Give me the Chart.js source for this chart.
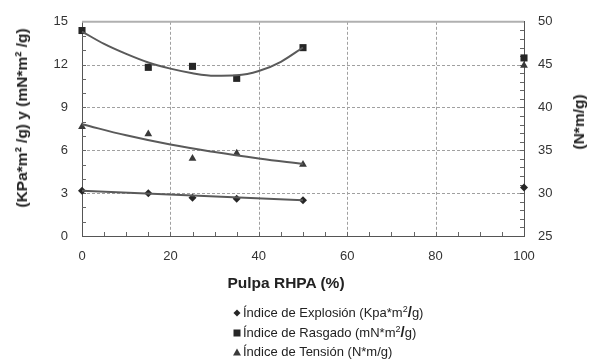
<!DOCTYPE html>
<html>
<head>
<meta charset="utf-8">
<script src="https://cdn.jsdelivr.net/npm/chart.js@4.4.1/dist/chart.umd.min.js"></script>
<style>
  html, body { margin: 0; padding: 0; background: #fff; }
  #wrap { position: relative; width: 589px; height: 362px; overflow: hidden; font-family: "Liberation Sans", Arial, sans-serif; color: #222; }
  #c { position: absolute; left: 0; top: 0; }
  .ttl { position: absolute; font-weight: bold; font-size: 15.5px; white-space: nowrap; color: #222; }
  .rot { transform: translate(-50%, -50%) rotate(-90deg); }
  .leg { position: absolute; left: 243px; height: 16px; font-size: 13px; white-space: nowrap; color: #222; line-height: 16px; transform: translateY(-50%); }
  .leg sup { font-size: 9px; line-height: 0; }
  .leg b { font-size: 15px; line-height: 0; }
  .mk { position: absolute; background: #262626; }
  .dia { width: 5px; height: 5px; transform: translate(-50%, -50%) rotate(45deg); }
  .sq { width: 7px; height: 7px; transform: translate(-50%, -50%); }
  .tri { width: 0; height: 0; background: none; border-left: 4px solid transparent; border-right: 4px solid transparent; border-bottom: 7px solid #3a3a3a; transform: translate(-50%, -50%); }
</style>
</head>
<body>
<div id="wrap">
  <canvas id="c" width="589" height="362"></canvas>
  <div class="ttl rot" style="left:22px; top:118px;">(KPa*m² /g) y (mN*m² /g)</div>
  <div class="ttl rot" style="left:579px; top:122px;">(N*m/g)</div>
  <div class="ttl" style="left:286px; top:283px; transform: translate(-50%,-50%);">Pulpa RHPA (%)</div>
  <div class="mk dia" style="left:237px; top:313px;"></div>
  <div class="mk sq" style="left:237px; top:333px;"></div>
  <div class="mk tri" style="left:237px; top:352px;"></div>
  <div class="leg" style="top:313px;">Índice de Explosión (Kpa*m<sup>2</sup><b>/</b>g)</div>
  <div class="leg" style="top:333px;">Índice de Rasgado (mN*m<sup>2</sup><b>/</b>g)</div>
  <div class="leg" style="top:352px;">Índice de Tensión (N*m/g)</div>
</div>
<script>
// ---- data ----
const pulpa = [0, 15, 25, 35, 50, 100];
const explosion = [3.17, 3.0, 2.67, 2.6, 2.51, 3.39];      // left axis
const rasgado = [14.39, 11.81, 11.88, 11.04, 13.19, 12.47]; // left axis
const tension = [37.75, 36.9, 34.05, 34.65, 33.35, 44.9];   // right axis

const explosionTrendX = [0, 50];
const explosionTrend = [3.17, 2.51];
const rasgadoTrendX = [0, 5, 10, 15, 20, 25, 30, 35, 40, 45, 50];
const rasgadoTrend = [14.32, 13.45, 12.75, 12.15, 11.72, 11.4, 11.22, 11.25, 11.55, 12.2, 13.2];
const tensionTrendX = [0, 10, 20, 30, 40, 50];
const tensionTrend = [38.05, 36.75, 35.67, 34.8, 34.05, 33.4];

const xTicks = [0, 20, 40, 60, 80, 100];
const leftTicks = [0, 3, 6, 9, 12, 15];
const rightTicks = [25, 30, 35, 40, 45, 50];

const pts = (xs, ys) => xs.map((x, i) => ({ x: x, y: ys[i] }));

const lineCol = '#5a5a5a';
const markCol = '#262626';

const decor = {
  id: 'decor',
  beforeDatasetsDraw(chart) {
    const { ctx, chartArea: a, scales } = chart;
    ctx.save();
    // dashed grid
    ctx.strokeStyle = '#a0a0a0';
    ctx.lineWidth = 1;
    ctx.setLineDash([3, 2]);
    ctx.beginPath();
    xTicks.slice(1, -1).forEach(v => {
      const px = Math.round(scales.x.getPixelForValue(v)) + 0.5;
      ctx.moveTo(px, a.top); ctx.lineTo(px, a.bottom);
    });
    leftTicks.slice(1, -1).forEach(v => {
      const py = Math.round(scales.y.getPixelForValue(v)) + 0.5;
      ctx.moveTo(a.left, py); ctx.lineTo(a.right, py);
    });
    ctx.stroke();
    ctx.setLineDash([]);
    // minor ticks
    ctx.strokeStyle = '#666';
    ctx.beginPath();
    for (let v = 5; v < 100; v += 5) {
      const px = Math.round(scales.x.getPixelForValue(v)) + 0.5;
      ctx.moveTo(px, a.bottom); ctx.lineTo(px, a.bottom - 4);
    }
    for (let v = 1; v < 15; v++) {
      const py = Math.round(scales.y.getPixelForValue(v)) + 0.5;
      ctx.moveTo(a.left, py); ctx.lineTo(a.left + 4, py);
    }
    for (let v = 26; v < 50; v++) {
      const py = Math.round(scales.y1.getPixelForValue(v)) + 0.5;
      ctx.moveTo(a.right, py); ctx.lineTo(a.right - 4, py);
    }
    ctx.stroke();
    // top frame
    ctx.strokeStyle = '#b0b0b0';
    ctx.lineWidth = 2;
    ctx.beginPath();
    ctx.moveTo(a.left, a.top); ctx.lineTo(a.right, a.top);
    ctx.stroke();
    ctx.restore();
  }
};

new Chart(document.getElementById('c'), {
  type: 'scatter',
  data: {
    datasets: [
      { label: 'expTrend', data: pts(explosionTrendX, explosionTrend), yAxisID: 'y', showLine: true,
        borderColor: lineCol, borderWidth: 2, pointRadius: 0, clip: false },
      { label: 'rasTrend', data: pts(rasgadoTrendX, rasgadoTrend), yAxisID: 'y', showLine: true,
        borderColor: lineCol, borderWidth: 2, pointRadius: 0, tension: 0.4, cubicInterpolationMode: 'monotone', clip: false },
      { label: 'tenTrend', data: pts(tensionTrendX, tensionTrend), yAxisID: 'y1', showLine: true,
        borderColor: lineCol, borderWidth: 2, pointRadius: 0, tension: 0.4, clip: false },
      { label: 'Índice de Explosión', data: pts(pulpa, explosion), yAxisID: 'y', pointStyle: 'rectRot',
        pointRadius: 4, backgroundColor: markCol, borderColor: markCol, borderWidth: 0, clip: false },
      { label: 'Índice de Rasgado', data: pts(pulpa, rasgado), yAxisID: 'y', pointStyle: 'rect',
        pointRadius: 5, backgroundColor: markCol, borderColor: markCol, borderWidth: 0, clip: false },
      { label: 'Índice de Tensión', data: pts(pulpa, tension), yAxisID: 'y1', pointStyle: 'triangle',
        pointRadius: 4.5, backgroundColor: '#3a3a3a', borderColor: '#3a3a3a', borderWidth: 0, clip: false }
    ]
  },
  options: {
    responsive: false,
    animation: false,
    layout: { padding: { top: 15, left: 0, right: 0, bottom: 0 } },
    plugins: { legend: { display: false }, tooltip: { enabled: false } },
    scales: {
      x: {
        type: 'linear', min: 0, max: 100,
        afterFit: (s) => { s.height = 126; },
        afterBuildTicks: (s) => { s.ticks = xTicks.map(v => ({ value: v })); },
        ticks: { color: '#333', font: { family: 'Liberation Sans', size: 13 }, padding: 13 },
        grid: { display: false, drawTicks: false },
        border: { display: true, color: '#555', width: 1 }
      },
      y: {
        type: 'linear', position: 'left', min: 0, max: 15,
        afterFit: (s) => { s.width = 82; },
        afterBuildTicks: (s) => { s.ticks = leftTicks.map(v => ({ value: v })); },
        ticks: { color: '#333', font: { family: 'Liberation Sans', size: 13 }, padding: 14 },
        grid: { display: false, drawTicks: false },
        border: { display: true, color: '#555', width: 1 }
      },
      y1: {
        type: 'linear', position: 'right', min: 25, max: 50,
        afterFit: (s) => { s.width = 65; },
        afterBuildTicks: (s) => { s.ticks = rightTicks.map(v => ({ value: v })); },
        ticks: { color: '#333', font: { family: 'Liberation Sans', size: 13 }, padding: 14 },
        grid: { display: false, drawTicks: false },
        border: { display: true, color: '#555', width: 1 }
      }
    }
  },
  plugins: [decor]
});
</script>
</body>
</html>
